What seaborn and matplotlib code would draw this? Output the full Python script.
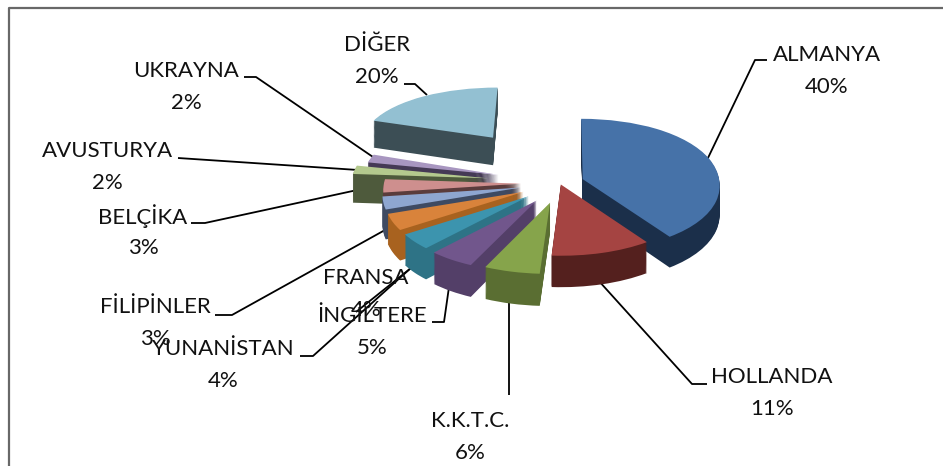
import matplotlib
matplotlib.use('Agg')
import matplotlib.pyplot as plt
from matplotlib.transforms import Transform
import numpy as np
import seaborn as sns

sns.set_theme(style='white')
plt.rcParams['font.family'] = ['Lato', 'DejaVu Sans']

# values, clockwise from the top
countries = ['ALMANYA', 'HOLLANDA', 'K.K.T.C.', 'İNGİLTERE', 'YUNANİSTAN', 'FRANSA',
             'FİLİPİNLER', 'BELÇİKA', 'AVUSTURYA', 'UKRAYNA', 'DİĞER']
shares = [40, 11, 6, 5, 4, 4, 3, 3, 2, 2, 20]
pct_labels = ['%d%%' % s for s in shares]

top_colors = ['#4672a8', '#a54442', '#86a44b', '#71568c', '#3c94ae', '#d9833b',
              '#8ea6d0', '#ce8f8e', '#b4c98e', '#a896c0', '#93c0d2']
wall_colors = ['#1b2f4a', '#54201e', '#5a6e32', '#533f68', '#2e7386', '#a8621f',
               '#3e4a62', '#5a3c3c', '#4e5a3c', '#453a55', '#3c4e55']
# how far each slice is pulled out, pie explode is in data units (px here)
pull_out = [24, 3, 39, 41, 40, 40, 40, 39, 73, 64, 120]
# back to front
draw_order = [10, 9, 8, 0, 7, 6, 5, 4, 3, 2, 1]

# label centres and leader lines, in image pixels
label_xy = [(827, 55), (772, 377), (470, 421), (372, 316), (223, 349), (366, 278),
            (155, 307), (143, 216), (107, 151), (186, 71), (377, 45)]
leaders = [[(767, 60), (755, 60), (707, 160)],
           [(707, 384), (692, 384), (598, 280)],
           [(509, 395), (509, 303)],
           [(432, 322), (444, 322), (449, 287)],
           [(300, 356), (313, 356), (412, 267)],
           [(356, 312), (411, 268)],
           [(215, 315), (232, 315), (385, 230)],
           [(191, 223), (205, 223), (385, 184)],
           [(178, 158), (358, 170)],
           [(244, 77), (256, 77), (373, 157)],
           [(404, 84), (415, 84), (427, 95)]]

W, H = 943, 466
CX, CY = 560, 183   # where the slices meet, image pixels
RADIUS = 137
DEPTH = 29          # px, thickness of the pie at its centre
LAYERS = 30


class Tilt(Transform):
    """flat pie plane -> image pixels, tilted back with some perspective"""
    input_dims = 2
    output_dims = 2

    def __init__(self, drop=0.0):
        super().__init__()
        self.drop = drop

    def transform_non_affine(self, xy):
        xy = np.asarray(xy, dtype=float)
        x, y = xy[:, 0], xy[:, 1]
        near = 1 / (1 + y / 1800.0)
        squash = np.where(y > 0, 0.52 * y / (1 + np.maximum(y, 0) / 850.0), 0.52 * y)
        return np.column_stack([CX + x * near, CY - squash + self.drop * near])


fig = plt.figure(figsize=(W / 100, H / 100), dpi=100)
ax = fig.add_axes([0, 0, 1, 1])

for layer in range(LAYERS + 1):
    colors = top_colors if layer == LAYERS else wall_colors
    wedges, _ = ax.pie(shares, colors=colors, explode=pull_out, startangle=90, counterclock=False,
                       radius=RADIUS, wedgeprops={'linewidth': 0}, frame=True)
    tilt = Tilt(DEPTH * (1 - layer / LAYERS)) + ax.transData
    for i, w in enumerate(wedges):
        w.set_transform(tilt)
        w.set_zorder(10 + draw_order.index(i) * 100 + layer)

ax.set_aspect('auto')
ax.set_xlim(0, W)
ax.set_ylim(H, 0)
ax.axis('off')

for name, pct, (x, y), line in zip(countries, pct_labels, label_xy, leaders):
    ax.text(x, y, name, ha='center', va='center', fontsize=16, color='#111111', zorder=3000)
    ax.text(x, y + 32, pct, ha='center', va='center', fontsize=16, color='#111111', zorder=3000)
    xs, ys = zip(*line)
    ax.plot(xs, ys, color='black', lw=1.3, solid_capstyle='butt', zorder=2)

# frame of the chart area, no right or bottom side in the picture
ax.plot([W, 8.5, 8.5], [7.5, 7.5, H], color='#686868', lw=1.6, zorder=3000)
ax.set_xlim(0, W)
ax.set_ylim(H, 0)

fig.savefig('out.png', dpi=100)
